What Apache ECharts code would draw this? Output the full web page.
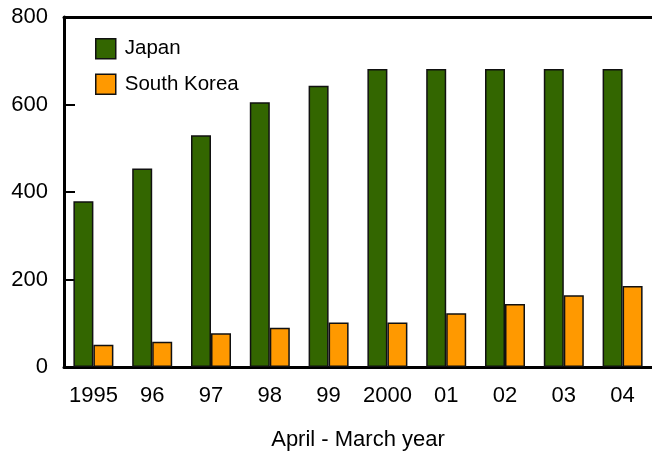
<!DOCTYPE html>
<html>
<head>
<meta charset="utf-8">
<script src="https://cdn.jsdelivr.net/npm/echarts@6/dist/echarts.min.js"></script>
<style>
  html, body { margin: 0; padding: 0; background: #fff; }
  #chart { width: 652px; height: 453px; }
</style>
</head>
<body>
<div id="chart"></div>
<script>
// April - March year
const years = ['1995', '96', '97', '98', '99', '2000', '01', '02', '03', '04']
const japan = [379, 454, 530, 605, 643, 681, 681, 681, 681, 681]
const southKorea = [51, 58, 77, 90, 102, 102, 123, 144, 164, 185]
const yTicks = [0, 200, 400, 600, 800]

const font = 'Liberation Sans, Arial, sans-serif'
const barBorder = { borderColor: '#111', borderWidth: 1.5 }

const chart = echarts.init(document.getElementById('chart'))
chart.setOption({
    animation: false,
    grid: { left: 64, right: 0, top: 17, bottom: 86, outerBoundsMode: 'none' },
    legend: {
        orient: 'vertical',
        left: 95,
        top: 38,
        padding: 0,
        itemWidth: 20,
        itemHeight: 20,
        itemGap: 14,
        icon: 'rect',
        itemStyle: barBorder,
        textStyle: { fontFamily: font, fontSize: 20.5, color: '#000', padding: [0, 0, 0, 4] },
        data: ['Japan', 'South Korea']
    },
    xAxis: [{
        type: 'category',
        data: years,
        name: 'April - March year',
        nameLocation: 'middle',
        nameGap: 62,
        nameTextStyle: { fontFamily: font, fontSize: 22, color: '#000' },
        axisLine: { lineStyle: { color: '#000', width: 3 } },
        axisTick: { alignWithLabel: true, length: 10, lineStyle: { color: '#444', width: 2 } },
        axisLabel: { interval: 0, fontFamily: font, fontSize: 22, color: '#000', margin: 18 }
    }, {
        type: 'category',
        position: 'top',
        data: years,
        axisLine: { lineStyle: { color: '#000', width: 3 } },
        axisTick: { show: false },
        axisLabel: { show: false }
    }],
    yAxis: {
        type: 'value',
        min: yTicks[0],
        max: yTicks[yTicks.length - 1],
        interval: 200,
        splitLine: { show: false },
        axisLine: { show: true, lineStyle: { color: '#000', width: 3 } },
        axisTick: { show: true, inside: true, length: 11, lineStyle: { color: '#000', width: 2 } },
        axisLabel: { fontFamily: font, fontSize: 22, color: '#000', margin: 16 }
    },
    series: [{
        name: 'Japan',
        type: 'bar',
        barWidth: 20,
        barGap: '0%',
        itemStyle: Object.assign({ color: '#336600' }, barBorder),
        data: japan
    }, {
        name: 'South Korea',
        type: 'bar',
        barWidth: 20,
        itemStyle: Object.assign({ color: '#ff9900' }, barBorder),
        data: southKorea
    }]
})
</script>
</body>
</html>
